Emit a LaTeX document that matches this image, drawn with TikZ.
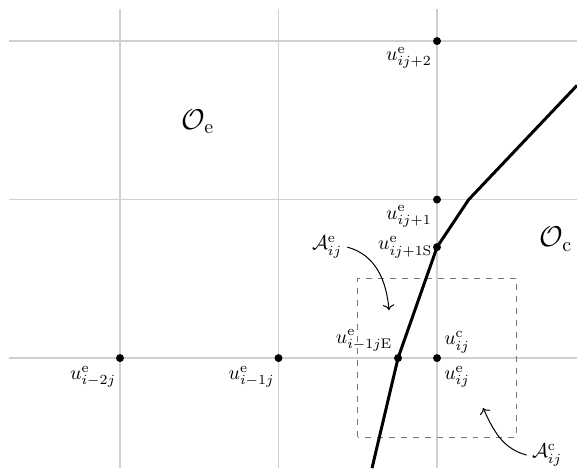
\documentclass[tikz,border=0pt]{standalone}
\usepackage{amsmath,amssymb}
\usepackage{tikz}
\usetikzlibrary{arrows.meta,positioning}
\definecolor{gridgray}{RGB}{208,208,208}
\definecolor{boxgray}{RGB}{120,120,120}

\begin{document}
\begin{tikzpicture}[x=2.8cm,y=2.8cm,
  dot/.style={circle,fill=black,inner sep=0pt,minimum size=4pt},
  lbl/.style={inner sep=0.5pt},
  gridline/.style={gridgray,line width=0.6pt},
  cellbox/.style={boxgray,dashed,line width=0.6pt},
  iface/.style={black,line width=1.5pt},
  pointer/.style={->,line width=0.5pt}]
\useasboundingbox (-2.757,-0.694) rectangle (0.883,2.259);
\foreach \y in {0,1,2} \draw[gridline] (-2.70,\y)--(0.883,\y);
\foreach \x in {-2,-1,0} \draw[gridline] (\x,2.20)--(\x,-0.694);
\draw[cellbox] (-0.5,-0.5) rectangle (0.5,0.5);
\coordinate (ifB) at (-0.41,-0.694);
\coordinate (ifE) at (-0.246,0);
\coordinate (ifS) at (0,0.70);
\coordinate (ifK) at (0.20,1);
\coordinate (ifT) at (0.883,1.72);
\draw[iface] (ifB)--(ifE)--(ifS)--(ifK)--(ifT);
\node[dot] (uim2) at (-2,0) {};
\node[dot] (uim1) at (-1,0) {};
\node[dot] (uij) at (0,0) {};
\node[dot] (uij1) at (0,1) {};
\node[dot] (uij2) at (0,2) {};
\node[dot] (uS) at (ifS) {};
\node[dot] (uE) at (ifE) {};
\node[lbl] (luim2) at (-2.17,-0.12) {$u^{\mathrm{e}}_{i-2j}$};
\node[lbl] (luim1) at (-1.17,-0.12) {$u^{\mathrm{e}}_{i-1j}$};
\node[lbl] (luij2) at (-0.177,1.895) {$u^{\mathrm{e}}_{ij+2}$};
\node[lbl] (luij1) at (-0.177,0.893) {$u^{\mathrm{e}}_{ij+1}$};
\node[lbl] (luS) at (-0.20,0.70) {$u^{\mathrm{e}}_{ij+1\mathrm{S}}$};
\node[lbl] (luE) at (-0.46,0.11) {$u^{\mathrm{e}}_{i-1j\mathrm{E}}$};
\node[lbl] (luc) at (0.126,0.10) {$u^{\mathrm{c}}_{ij}$};
\node[lbl] (lue) at (0.126,-0.117) {$u^{\mathrm{e}}_{ij}$};
\node[lbl] (Oe) at (-1.508,1.489) {\Large $\mathcal{O}_{\mathrm{e}}$};
\node[lbl] (Oc) at (0.75,0.75) {\Large $\mathcal{O}_{\mathrm{c}}$};
\node[lbl] (Ae) at (-0.694,0.70) {$\mathcal{A}^{\mathrm{e}}_{ij}$};
\node[lbl] (Ac) at (0.694,-0.612) {$\mathcal{A}^{\mathrm{c}}_{ij}$};
\coordinate (AeTip) at (-0.303,0.303);
\coordinate (AcTip) at (0.29,-0.315);
\draw[pointer] ([xshift=2pt]Ae.east) to[out=-15,in=95] (AeTip);
\draw[pointer] ([xshift=-2pt]Ac.west) to[out=165,in=-65] (AcTip);
\end{tikzpicture}
\end{document}
